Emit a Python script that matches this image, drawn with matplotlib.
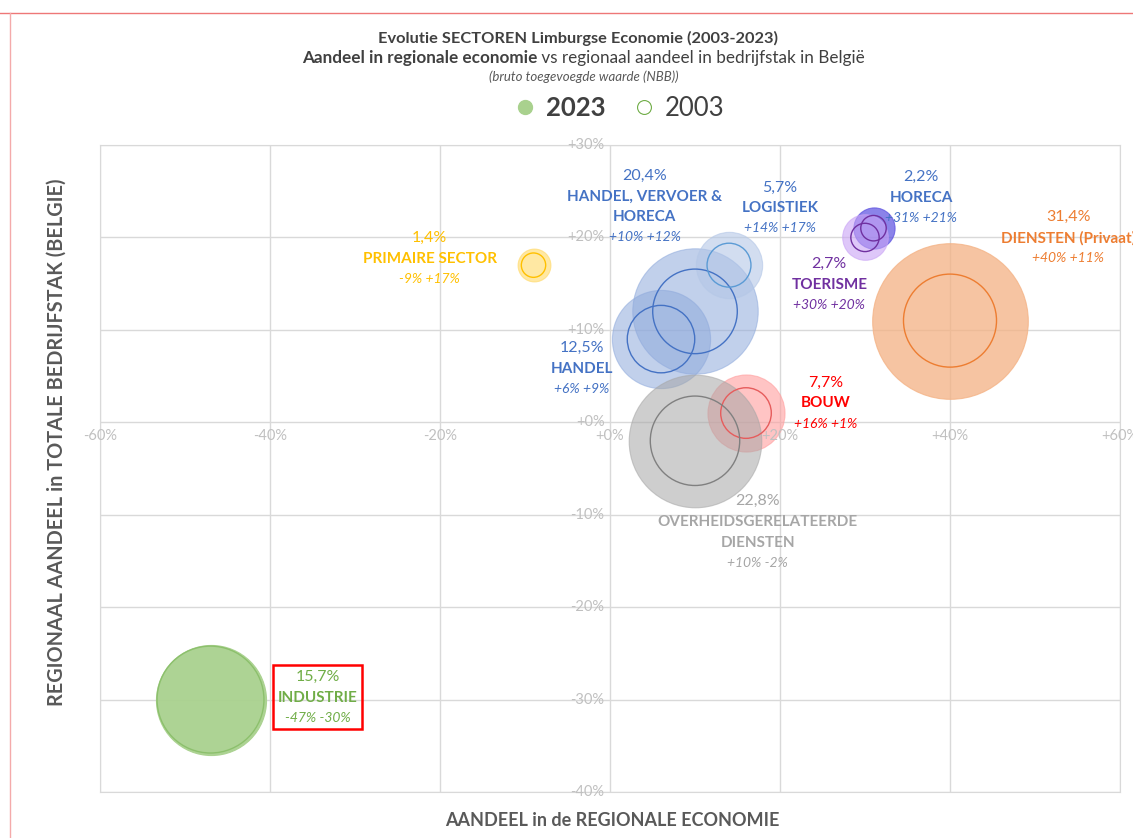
import numpy as np
import matplotlib

matplotlib.use("Agg")
import matplotlib.pyplot as plt
from matplotlib.lines import Line2D
from matplotlib.patches import Rectangle

plt.rcParams["font.family"] = ["Lato", "DejaVu Sans"]

# sector data (2023 share of regional economy, position = change vs 2003)
sectoren = ["PRIMAIRE SECTOR", "INDUSTRIE", "BOUW", "HANDEL, VERVOER &\nHORECA", "HANDEL",
            "LOGISTIEK", "HORECA", "DIENSTEN (Privaat)", "TOERISME",
            "OVERHEIDSGERELATEERDE\nDIENSTEN"]
aandeel_2023 = [1.4, 15.7, 7.7, 20.4, 12.5, 5.7, 2.2, 31.4, 2.7, 22.8]
delta_x = [-9, -47, 16, 10, 6, 14, 31, 40, 30, 10]   # aandeel in regionale economie
delta_y = [17, -30, 1, 12, 9, 17, 21, 11, 20, -2]     # regionaal aandeel bedrijfstak
# 2003 share follows from the 2023 share and the change
aandeel_2003 = [a / (1 + d / 100) for a, d in zip(aandeel_2023, delta_x)]

text_kleur = ["#FFC000", "#70AD47", "#FF0000", "#4472C4", "#4472C4",
              "#4472C4", "#4472C4", "#ED7D31", "#7030A0", "#A6A6A6"]
vul_kleur = ["#FFD966", "#A9D18E", "#FF9E9E", "#8FAADC", "#8FAADC",
             "#B4C7E7", "#5A4FE0", "#F4B183", "#C9A3F5", "#A6A6A6"]
vul_alpha = [0.6, 0.95, 0.6, 0.55, 0.55, 0.6, 0.7, 0.75, 0.6, 0.55]
rand_kleur = ["#FFC000", "#8CC06C", "#E65C5C", "#4472C4", "#4472C4",
              "#5B9BD5", "#7030A0", "#ED7D31", "#7030A0", "#808080"]

# label anchors (data coords of the top line of each label block)
label_pos = [(-21.2, 19.9), (-34.4, -27.6), (25.4, 4.3), (4.1, 26.7), (-3.3, 8.0),
             (20.0, 25.4), (36.6, 26.5), (53.9, 22.2), (25.8, 17.1), (17.4, -8.5)]

fig = plt.figure(figsize=(11.33, 8.38), dpi=100)
ax = fig.add_axes([100 / 1133, 1 - 792 / 838, 1020 / 1133, 647 / 838])

ax.set_xlim(-60, 60)
ax.set_ylim(-40, 30)
ax.set_xticks(np.arange(-60, 61, 20))
ax.set_yticks(np.arange(-40, 31, 10))
ax.grid(True, color="#D9D9D9", linewidth=1)
ax.tick_params(length=0, labelbottom=False, labelleft=False)
for sp in ax.spines.values():
    sp.set_color("#D9D9D9")
ax.set_axisbelow(True)

# tick labels sit on the zero axes
for v in np.arange(-60, 61, 20):
    ax.annotate(f"{v:+d}%", xy=(v, 0), xytext=(0, -10), textcoords="offset points",
                ha="center", va="center", fontsize=10.5, color="#C0C0C0",
                annotation_clip=False)
for v in np.arange(-40, 31, 10):
    ax.annotate(f"{v:+d}%", xy=(0, v), xytext=(-4, 0), textcoords="offset points",
                ha="right", va="center", fontsize=10.5, color="#C0C0C0")

# bubbles: 2023 filled, 2003 outline
s_2023 = np.array(aandeel_2023) * 400
s_2003 = np.array(aandeel_2003) * 200
for i in range(len(sectoren)):
    ax.scatter(delta_x[i], delta_y[i], s=s_2023[i], color=vul_kleur[i],
               alpha=vul_alpha[i], linewidths=0.8, edgecolors=vul_kleur[i], zorder=2)
ax.scatter(delta_x, delta_y, s=s_2003, facecolors="none", edgecolors=rand_kleur,
           linewidths=1, zorder=3)

# labels
industrie_txt = []
for i, naam in enumerate(sectoren):
    kleur = text_kleur[i]
    regels = [(f"{aandeel_2023[i]:.1f}%".replace(".", ","), "normal", "normal", 11.5)]
    for n in naam.split("\n"):
        regels.append((n, "bold", "normal", 11))
    regels.append((f"{delta_x[i]:+d}% {delta_y[i]:+d}%", "normal", "italic", 10))
    off = 0
    for j, (t, w, st, fs) in enumerate(regels):
        if j > 0:
            off -= 15 if j < len(regels) - 1 else 14.5
        tt = ax.annotate(t, xy=label_pos[i], xytext=(0, off), textcoords="offset points",
                         ha="center", va="center", fontsize=fs, fontweight=w,
                         fontstyle=st, color=kleur, annotation_clip=False, zorder=5)
        if naam == "INDUSTRIE":
            industrie_txt.append(tt)

# titles
fig.text(0.51, 1 - 38 / 838, "Evolutie SECTOREN Limburgse Economie (2003-2023)",
         ha="center", va="center", fontsize=11.8, fontweight="bold", color="#404040")
t1 = fig.text(302 / 1133, 1 - 58 / 838, "Aandeel in regionale economie", ha="left",
              va="center", fontsize=12.3, fontweight="bold", color="#404040")
fig.canvas.draw()
bb = t1.get_window_extent()
fig.text(bb.x1 / fig.bbox.width, 1 - 58 / 838,
         " vs regionaal aandeel in bedrijfstak in België", ha="left", va="center",
         fontsize=12.3, color="#404040")
fig.text(0.515, 1 - 77 / 838, "(bruto toegevoegde waarde (NBB))", ha="center",
         va="center", fontsize=9.5, fontstyle="italic", color="#595959")

handles = [Line2D([], [], marker="o", linestyle="none", markersize=10,
                  markerfacecolor="#A9D18E", markeredgecolor="#A9D18E"),
           Line2D([], [], marker="o", linestyle="none", markersize=10,
                  markerfacecolor="none", markeredgecolor="#70AD47", markeredgewidth=0.8)]
leg = fig.legend(handles, ["2023", "2003"], loc="center", ncol=2, frameon=False,
                 bbox_to_anchor=(618 / 1133, 1 - 108 / 838), fontsize=18.5,
                 handletextpad=0.3, columnspacing=1.0, handlelength=1.0)
for t in leg.get_texts():
    t.set_color("#404040")
leg.get_texts()[0].set_fontweight("bold")

fig.text(612 / 1133, 1 - 820 / 838, "AANDEEL in de REGIONALE ECONOMIE", ha="center",
         va="center", fontsize=13, fontweight="bold", color="#595959")
fig.text(57 / 1133, 1 - 442 / 838, "REGIONAAL AANDEEL in TOTALE BEDRIJFSTAK (BELGIE)",
         ha="center", va="center", rotation=90, fontsize=14.3, fontweight="bold",
         color="#595959")

# red box around INDUSTRIE label
fig.canvas.draw()
boxes = [t.get_window_extent() for t in industrie_txt]
x0 = min(b.x0 for b in boxes) - 5
x1 = max(b.x1 for b in boxes) + 5
y0 = min(b.y0 for b in boxes) - 5
y1 = max(b.y1 for b in boxes) + 5
W, H = fig.bbox.width, fig.bbox.height
fig.patches.append(Rectangle((x0 / W, y0 / H), (x1 - x0) / W, (y1 - y0) / H,
                             transform=fig.transFigure, fill=False,
                             edgecolor="#FF0000", linewidth=1.8, zorder=6))

# red frame of the screenshot
fig.add_artist(Line2D([0, 1], [1 - 13 / 838] * 2, transform=fig.transFigure,
                      color="#EE7777", linewidth=1))
fig.add_artist(Line2D([10 / 1133] * 2, [0, 1 - 13 / 838], transform=fig.transFigure,
                      color="#F4AAAA", linewidth=1))

fig.savefig("out.png", dpi=100)
